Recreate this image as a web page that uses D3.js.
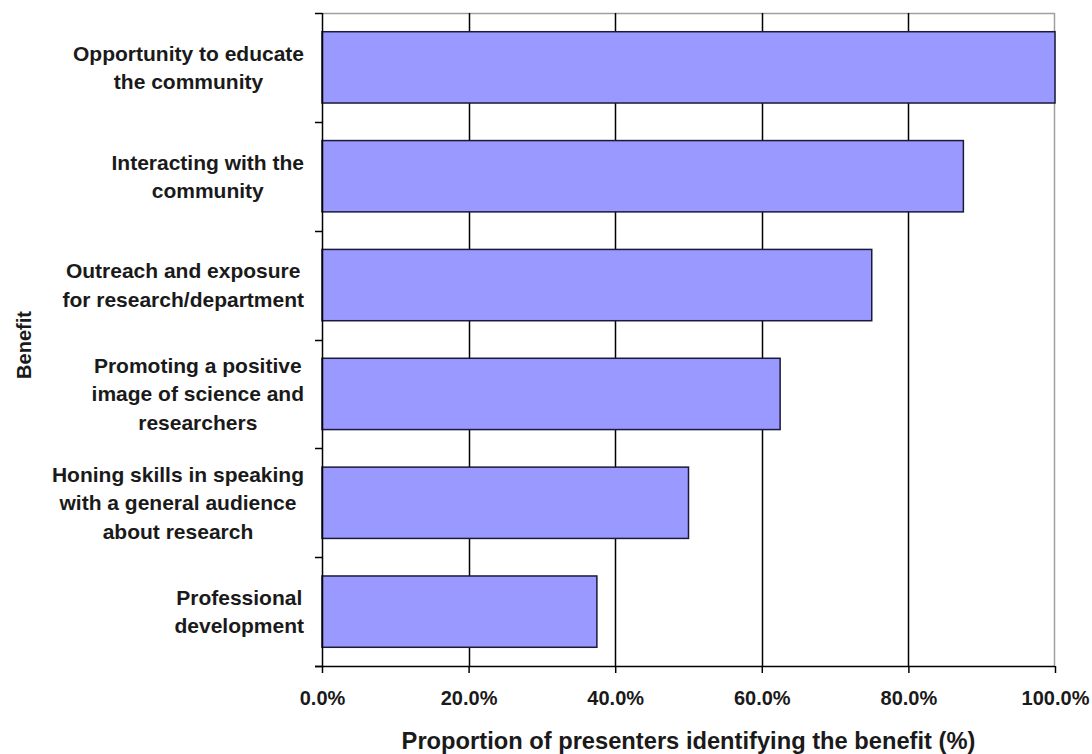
<!DOCTYPE html>
<html>
<head>
<meta charset="utf-8">
<script src="https://cdn.jsdelivr.net/npm/d3@7"></script>
<style>
  html, body { margin: 0; padding: 0; background: #fff; }
  text { font-family: Arial, "Liberation Sans", sans-serif; font-weight: bold; fill: #1a1a1a; }
</style>
</head>
<body>
<svg id="chart" width="1092" height="754"></svg>
<script>
// Benefits reported by presenters (top to bottom)
const categories = [
  ["Opportunity to educate", "the community"],
  ["Interacting with the", "community"],
  ["Outreach and exposure", "for research/department"],
  ["Promoting a positive", "image of science and", "researchers"],
  ["Honing skills in speaking", "with a general audience", "about research"],
  ["Professional", "development"]
];
const values = [100, 87.5, 75, 62.5, 50, 37.5];
const xTicks = [0, 20, 40, 60, 80, 100];
const xTitle = "Proportion of presenters identifying the benefit (%)";
const yTitle = "Benefit";

const svg = d3.select("#chart");
const plot = { left: 322, right: 1055, top: 13, bottom: 666 };

const x = d3.scaleLinear().domain([0, 100]).range([plot.left, plot.right]);
const y = d3.scaleBand()
  .domain(d3.range(categories.length))
  .range([plot.top, plot.bottom])
  .paddingInner(0.345)
  .paddingOuter(0.172);
const yBounds = d3.scaleLinear().domain([0, categories.length]).range([plot.top, plot.bottom]);

// plot frame: top and right borders in gray
svg.append("line")
  .attr("x1", plot.left).attr("x2", plot.right)
  .attr("y1", plot.top + 0.5).attr("y2", plot.top + 0.5)
  .attr("stroke", "#a0a0a0").attr("stroke-width", 1.5);
svg.append("line")
  .attr("x1", plot.right - 0.5).attr("x2", plot.right - 0.5)
  .attr("y1", plot.top).attr("y2", plot.bottom)
  .attr("stroke", "#a0a0a0").attr("stroke-width", 1.5);

// vertical gridlines
svg.append("g")
  .selectAll("line")
  .data(xTicks.filter(t => t > 0 && t < 100))
  .join("line")
  .attr("x1", d => Math.round(x(d)) + 0.5).attr("x2", d => Math.round(x(d)) + 0.5)
  .attr("y1", plot.top).attr("y2", plot.bottom)
  .attr("stroke", "#000").attr("stroke-width", 1.5);

// bars
svg.append("g")
  .selectAll("rect")
  .data(values)
  .join("rect")
  .attr("x", x(0))
  .attr("y", (d, i) => y(i))
  .attr("width", d => x(d) - x(0))
  .attr("height", y.bandwidth())
  .attr("fill", "#9999ff")
  .attr("stroke", "#1a1a3a")
  .attr("stroke-width", 1.5);

// x axis
const xAxis = d3.axisBottom(x)
  .tickValues(xTicks)
  .tickFormat(d => d.toFixed(1) + "%")
  .tickSizeInner(7).tickSizeOuter(0);
const gx = svg.append("g")
  .attr("transform", `translate(0,${plot.bottom})`)
  .call(xAxis);
gx.attr("font-size", null).attr("font-family", null);
gx.select(".domain").attr("d", `M${plot.left - 7},0.5H${plot.right}`).attr("stroke", "#000").attr("stroke-width", 1.5);
gx.selectAll(".tick line").attr("stroke", "#000").attr("stroke-width", 1.5);
gx.selectAll(".tick text")
  .attr("y", 39).attr("dy", null)
  .style("font-size", "20px")
  .attr("fill", "#1a1a1a");

// y axis line with ticks at band boundaries
const gy = svg.append("g");
gy.append("line")
  .attr("x1", plot.left + 0.5).attr("x2", plot.left + 0.5)
  .attr("y1", plot.top).attr("y2", plot.bottom)
  .attr("stroke", "#000").attr("stroke-width", 1.5);
gy.selectAll("line.tick")
  .data(d3.range(categories.length + 1))
  .join("line")
  .attr("class", "tick")
  .attr("x1", plot.left - 7).attr("x2", plot.left)
  .attr("y1", d => Math.round(yBounds(d)) + 0.5).attr("y2", d => Math.round(yBounds(d)) + 0.5)
  .attr("stroke", "#000").attr("stroke-width", 1.5);

// category labels: lines centered within a block right-aligned near the axis
const labelRight = 304;
const lineH = 28.5;
const fontSize = 21;
categories.forEach((lines, i) => {
  const cy = y(i) + y.bandwidth() / 2;
  const g = svg.append("g");
  const texts = lines.map((ln, k) => g.append("text")
    .style("font-size", fontSize + "px")
    .attr("text-anchor", "middle")
    .attr("y", cy + (k - (lines.length - 1) / 2) * lineH + fontSize * 0.36)
    .text(ln));
  const maxW = d3.max(texts, t => t.node().getComputedTextLength());
  texts.forEach(t => t.attr("x", labelRight - maxW / 2));
});

// axis titles
svg.append("text")
  .attr("x", (plot.left + plot.right) / 2)
  .attr("y", 749)
  .attr("text-anchor", "middle")
  .style("font-size", "23.7px")
  .text(xTitle);

svg.append("text")
  .attr("transform", `translate(31,345) rotate(-90)`)
  .attr("text-anchor", "middle")
  .style("font-size", "20px")
  .text(yTitle);
</script>
</body>
</html>
